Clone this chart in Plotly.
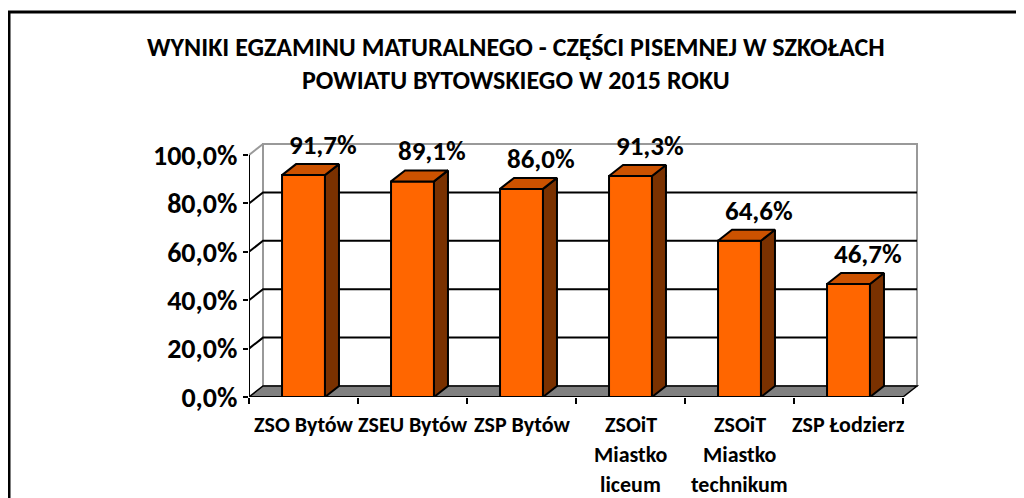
import plotly.graph_objects as go

# ---- data ----
categories = ["ZSO Bytów", "ZSEU Bytów", "ZSP Bytów",
              "ZSOiT Miastko liceum", "ZSOiT Miastko technikum", "ZSP Łodzierz"]
category_lines = [["ZSO Bytów"], ["ZSEU Bytów"], ["ZSP Bytów"],
                  ["ZSOiT", "Miastko", "liceum"], ["ZSOiT", "Miastko", "technikum"],
                  ["ZSP Łodzierz"]]
values = [91.7, 89.1, 86.0, 91.3, 64.6, 46.7]
y_ticks = [0, 20, 40, 60, 80, 100]
title_lines = ["WYNIKI EGZAMINU MATURALNEGO - CZĘŚCI PISEMNEJ W SZKOŁACH",
               "POWIATU BYTOWSKIEGO W 2015 ROKU"]

def pct(v):
    return f"{v:.1f}".replace(".", ",") + "%"

# ---- layout geometry (page body has an 8px margin) ----
OFF = 8
W, H = 1024 - OFF, 498 - OFF
ML, MR, MT, MB = 249 - OFF, 94, 130 - OFF, 101
PX_CAT = 109.0          # pixels per category
PX_PCT = 2.42           # pixels per percent
n = len(categories)
xs = list(range(n))
XMIN = -0.5
XMAX = XMIN + (W - ML - MR) / PX_CAT
YMAX = (H - MT - MB) / PX_PCT
DX = 14 / PX_CAT        # 3D depth offset (x units)
DY = 11 / PX_PCT        # 3D depth offset (y units)
BW = 0.394              # bar width
XEND = n - 0.5

FONT = "Carlito, Lato, 'Open Sans', sans-serif"
FRONT, TOP, SIDE = "#FF6600", "#CC5200", "#7A3100"

def paper_x(px):
    return (px - OFF - ML) / (W - ML - MR)

def paper_y(py):
    return (H - MB - (py - OFF)) / (H - MT - MB)

fig = go.Figure()

# front faces
fig.add_trace(go.Bar(x=xs, y=values, width=BW,
                     marker=dict(color=FRONT, line=dict(color="black", width=2)),
                     hoverinfo="skip", showlegend=False))

# side and top faces
for i, v in zip(xs, values):
    r = i + BW / 2
    l = i - BW / 2
    fig.add_trace(go.Scatter(x=[r, r + DX, r + DX, r, r], y=[0, DY, v + DY, v, 0],
                             mode="lines", fill="toself", fillcolor=SIDE,
                             line=dict(color="black", width=2),
                             hoverinfo="skip", showlegend=False))
    fig.add_trace(go.Scatter(x=[l, r, r + DX, l + DX, l], y=[v, v, v + DY, v + DY, v],
                             mode="lines", fill="toself", fillcolor=TOP,
                             line=dict(color="black", width=2),
                             hoverinfo="skip", showlegend=False))

shapes = []
# back wall
shapes.append(dict(type="rect", xref="x", yref="y", layer="below",
                   x0=XMIN + DX, x1=XEND + DX, y0=DY, y1=y_ticks[-1] + DY,
                   fillcolor="white", line=dict(color="#999999", width=2)))
shapes.append(dict(type="line", xref="x", yref="y", layer="below",
                   x0=XMIN, y0=y_ticks[-1], x1=XMIN + DX, y1=y_ticks[-1] + DY,
                   line=dict(color="#999999", width=2)))
# gridlines on the back wall
for t in y_ticks[1:-1]:
    shapes.append(dict(type="path", xref="x", yref="y", layer="below",
                       path=f"M {XMIN},{t} L {XMIN + DX},{t + DY} L {XEND + DX},{t + DY}",
                       line=dict(color="black", width=2)))
# floor
shapes.append(dict(type="path", xref="x", yref="y", layer="below",
                   path=f"M {XMIN},0 L {XEND},0 L {XEND + DX},{DY} L {XMIN + DX},{DY} Z",
                   fillcolor="#808080", line=dict(color="black", width=1.5)))
# axis lines
shapes.append(dict(type="line", xref="x", yref="y", layer="above",
                   x0=XMIN, y0=0, x1=XMIN, y1=y_ticks[-1], line=dict(color="black", width=2)))
shapes.append(dict(type="line", xref="x", yref="y", layer="above",
                   x0=XMIN, y0=0, x1=XEND, y1=0, line=dict(color="black", width=2)))
# outer border
shapes.append(dict(type="rect", xref="paper", yref="paper",
                   x0=paper_x(9), x1=paper_x(1040), y0=paper_y(12), y1=paper_y(520),
                   line=dict(color="black", width=3)))

annotations = []
# data labels
for i, v in zip(xs, values):
    annotations.append(dict(x=i + 0.175, y=v + DY, xref="x", yref="y",
                            text=pct(v), showarrow=False, yanchor="bottom", yshift=1,
                            font=dict(family=FONT, size=27, color="black", weight="bold")))
# category labels (30px line spacing)
for i, lines in zip(xs, category_lines):
    for k, txt in enumerate(lines):
        annotations.append(dict(x=i, y=0, xref="x", yref="y", text=txt,
                                showarrow=False, xanchor="center", yanchor="middle",
                                yshift=-(27 + 30 * k),
                                font=dict(family=FONT, size=22, color="black", weight="bold")))
# title
for line, cy in zip(title_lines, [47, 80]):
    annotations.append(dict(x=paper_x(516), y=paper_y(cy), xref="paper", yref="paper",
                            text=line, showarrow=False, xanchor="center", yanchor="middle",
                            font=dict(family=FONT, size=26, color="black", weight="bold")))

fig.update_layout(
    width=W, height=H,
    margin=dict(l=ML, r=MR, t=MT, b=MB, pad=0),
    paper_bgcolor="white", plot_bgcolor="rgba(0,0,0,0)",
    showlegend=False,
    shapes=shapes, annotations=annotations,
    xaxis=dict(range=[XMIN, XMAX], tickmode="array", tickvals=xs,
               showticklabels=False, ticks="", showgrid=False, zeroline=False, showline=False,
               minor=dict(tickvals=[i - 0.5 for i in range(n + 1)], ticks="outside",
                          ticklen=6, tickwidth=2, tickcolor="black", showgrid=False)),
    yaxis=dict(range=[0, YMAX], tickmode="array", tickvals=y_ticks,
               ticktext=[pct(t) for t in y_ticks],
               ticks="outside", ticklen=5, tickwidth=2, tickcolor="black",
               showgrid=False, zeroline=False, showline=False,
               tickfont=dict(family=FONT, size=28, color="black", weight="bold")),
)

fig.write_html("out.html")
